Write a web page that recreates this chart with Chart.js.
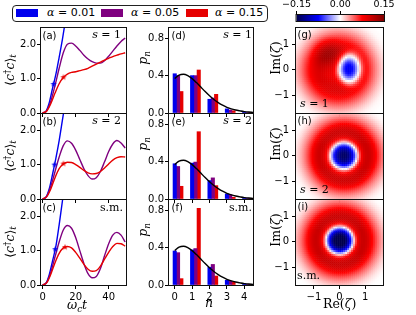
<!DOCTYPE html>
<html lang="en">
<head>
<meta charset="UTF-8">
<meta name="viewport" content="width=device-width, initial-scale=1.0">
<title>Occupation, photon statistics and Wigner maps</title>
<script src="https://cdn.jsdelivr.net/npm/chart.js"></script>
<style>
  html, body { margin: 0; padding: 0; background: #fff; }
  #fig { position: relative; width: 416px; height: 315px; overflow: hidden; font-family: "DejaVu Sans", sans-serif; color: #000; }
  #fig canvas { position: absolute; }
  .t { position: absolute; white-space: nowrap; font-size: 10px; line-height: 10px; }
  .m { font-family: "DejaVu Serif", serif; font-size: 11px; line-height: 11px; }
  .rot { position: absolute; white-space: nowrap; transform: translate(-50%, -50%) rotate(-90deg); font-family: "DejaVu Serif", serif; font-size: 12.5px; line-height: 14px; }
  .xl { position: absolute; white-space: nowrap; font-family: "DejaVu Serif", serif; font-size: 12.5px; line-height: 14px; }
  .sb { font-size: 0.7em; vertical-align: -0.3em; }
  .sp { font-size: 0.7em; vertical-align: 0.45em; }
  #legend { position: absolute; left: 12px; top: 5px; width: 254px; height: 15px; border: 1px solid #222; border-radius: 4px; }
  .patch { position: absolute; top: 9px; width: 22px; height: 8px; }
  .lg { position: absolute; top: 7px; font-size: 11px; line-height: 11px; white-space: nowrap; }
  .lg i { font-family: "DejaVu Serif", serif; }
</style>
</head>
<body>
<div id="fig">
  <div id="legend"></div>
  <div class="patch" style="left:16px;background:#0000ee"></div>
  <div class="lg" style="left:47px"><i>α</i> = 0.01</div>
  <div class="patch" style="left:101px;background:#7f007f"></div>
  <div class="lg" style="left:131px"><i>α</i> = 0.05</div>
  <div class="patch" style="left:186px;background:#e60000"></div>
  <div class="lg" style="left:215px"><i>α</i> = 0.15</div>

  <canvas id="cBar"></canvas>
  <canvas id="cA"></canvas><canvas id="cB"></canvas><canvas id="cC"></canvas>
  <canvas id="cD"></canvas><canvas id="cE"></canvas><canvas id="cF"></canvas>
  <canvas id="cG"></canvas><canvas id="cH"></canvas><canvas id="cI"></canvas>

  <!-- panel tags -->
  <div class="t" style="left:42.5px;top:31px">(a)</div>
  <div class="t" style="left:42.5px;top:117px">(b)</div>
  <div class="t" style="left:42.5px;top:203px">(c)</div>
  <div class="t" style="left:171.5px;top:31px">(d)</div>
  <div class="t" style="left:171.5px;top:117px">(e)</div>
  <div class="t" style="left:171.5px;top:203px">(f)</div>
  <div class="t" style="left:297.5px;top:30px">(g)</div>
  <div class="t" style="left:297.5px;top:116px">(h)</div>
  <div class="t" style="left:297.5px;top:202px">(i)</div>

  <div class="t m" style="right:295px;top:29px"><i>s</i> = 1</div>
  <div class="t m" style="right:295px;top:115px"><i>s</i> = 2</div>
  <div class="t m" style="right:293px;top:202px">s.m.</div>
  <div class="t m" style="right:164px;top:29px"><i>s</i> = 1</div>
  <div class="t m" style="right:164px;top:115px"><i>s</i> = 2</div>
  <div class="t m" style="right:164px;top:202px">s.m.</div>
  <div class="t m" style="left:300px;top:98px"><i>s</i> = 1</div>
  <div class="t m" style="left:300px;top:184px"><i>s</i> = 2</div>
  <div class="t m" style="left:297px;top:270px">s.m.</div>

  <!-- axis titles -->
  <div class="rot" style="left:9.5px;top:70px">⟨<i>c</i><span class="sp">†</span><i>c</i>⟩<span class="sb"><i>t</i></span></div>
  <div class="rot" style="left:9.5px;top:156px">⟨<i>c</i><span class="sp">†</span><i>c</i>⟩<span class="sb"><i>t</i></span></div>
  <div class="rot" style="left:9.5px;top:242px">⟨<i>c</i><span class="sp">†</span><i>c</i>⟩<span class="sb"><i>t</i></span></div>
  <div class="rot" style="left:145px;top:58px"><i>p</i><span class="sb"><i>n</i></span></div>
  <div class="rot" style="left:145px;top:144px"><i>p</i><span class="sb"><i>n</i></span></div>
  <div class="rot" style="left:145px;top:230px"><i>p</i><span class="sb"><i>n</i></span></div>
  <div class="rot" style="left:276px;top:58px">Im(<i>ζ</i>)</div>
  <div class="rot" style="left:276px;top:144px">Im(<i>ζ</i>)</div>
  <div class="rot" style="left:276px;top:230px">Im(<i>ζ</i>)</div>
  <div class="xl" style="left:67px;top:298px"><i>ω</i><span class="sb"><i>c</i></span><i>t</i></div>
  <div class="xl" style="left:205px;top:296px"><i>n</i></div>
  <div class="xl" style="left:323px;top:297px">Re(<i>ζ</i>)</div>
</div>

<script>
// ---- values ----
const tSteps = [0, 2.5, 5, 7.5, 10, 12.5, 15, 17.5, 20, 22.5, 25, 27.5, 30, 32.5, 35, 37.5, 40, 42.5, 45, 47.5, 50];
const tEarly = [0, 2, 4, 6, 8, 10, 12, 14];

const blueS1 = [0, 0.05, 0.3, 0.72, 1.12, 1.62, 2.15, 2.75];
const blueS2 = [0, 0.05, 0.3, 0.72, 1.18, 1.7, 2.3, 2.9];
const blueSM = [0, 0.05, 0.3, 0.7, 1.12, 1.75, 2.45, 3.1];

const purpleS1 = [0, 0.07, 0.35, 0.8, 1.3, 1.75, 2.0, 2.03, 1.95, 1.82, 1.68, 1.57, 1.49, 1.45, 1.45, 1.52, 1.65, 1.8, 1.95, 2.08, 2.18];
const redS1 = [0, 0.06, 0.28, 0.58, 0.85, 1.03, 1.13, 1.18, 1.2, 1.23, 1.26, 1.3, 1.36, 1.42, 1.48, 1.54, 1.59, 1.64, 1.68, 1.72, 1.75];
const purpleS2 = [0, 0.08, 0.38, 0.8, 1.22, 1.55, 1.69, 1.62, 1.42, 1.15, 0.88, 0.68, 0.58, 0.62, 0.8, 1.08, 1.38, 1.6, 1.7, 1.63, 1.48];
const redS2 = [0, 0.07, 0.3, 0.62, 0.88, 1.02, 1.07, 1.06, 1.0, 0.92, 0.83, 0.76, 0.73, 0.74, 0.8, 0.9, 1.02, 1.13, 1.2, 1.23, 1.22];
const purpleSM = [0, 0.08, 0.38, 0.82, 1.25, 1.6, 1.73, 1.65, 1.38, 1.0, 0.62, 0.33, 0.21, 0.25, 0.48, 0.85, 1.2, 1.45, 1.53, 1.45, 1.25];
const redSM = [0, 0.07, 0.32, 0.65, 0.92, 1.08, 1.12, 1.08, 0.95, 0.78, 0.6, 0.46, 0.4, 0.42, 0.55, 0.75, 0.95, 1.12, 1.21, 1.2, 1.13];

// star markers, one per panel (a), (b), (c)
const starBlueT = [6.6, 7.2, 7.6];
const starBlueY = [0.84, 1.0, 1.04];
const starRedT = [12.6, 12.6, 13.6];
const starRedY = [1.04, 1.03, 1.1];

// photon-number distributions
const nLevels = [0, 1, 2, 3, 4];
const pBlueS1 = [0.42, 0.40, 0.147, 0.044, 0.01];
const pPurpleS1 = [0.40, 0.40, 0.16, 0.032, 0.006];
const pRedS1 = [0.23, 0.46, 0.2, 0.024, 0.005];
const pBlueS2 = [0.377, 0.384, 0.197, 0.054, 0.011];
const pPurpleS2 = [0.348, 0.395, 0.226, 0.047, 0.008];
const pRedS2 = [0.136, 0.72, 0.143, 0.018, 0.003];
const pBlueSM = [0.364, 0.375, 0.19, 0.05, 0.014];
const pPurpleSM = [0.346, 0.39, 0.22, 0.043, 0.008];
const pRedSM = [0.068, 0.82, 0.096, 0.03, 0.004];

const nCurve = [0, 0.25, 0.5, 0.75, 1, 1.25, 1.5, 1.75, 2, 2.25, 2.5, 2.75, 3, 3.25, 3.5, 3.75, 4, 4.25, 4.5];
const pCurve = [0.368, 0.406, 0.415, 0.4, 0.368, 0.325, 0.277, 0.229, 0.184, 0.144, 0.111, 0.083, 0.061, 0.044, 0.032, 0.023, 0.015, 0.010, 0.007];

// radial profiles of the phase-space maps (value vs distance from centre)
const wigRadius = [0, 0.1, 0.2, 0.3, 0.4, 0.5, 0.6, 0.7, 0.8, 0.9, 1.0, 1.1, 1.2, 1.3, 1.4, 1.5, 1.6, 1.7, 1.8, 1.9, 2.0, 2.1, 2.2, 2.3];
const wigS1Ring = [0.078, 0.079, 0.081, 0.083, 0.086, 0.09, 0.094, 0.096, 0.095, 0.091, 0.084, 0.075, 0.065, 0.054, 0.043, 0.033, 0.024, 0.016, 0.01, 0.005, 0.002, 0.001, 0, 0];
const wigS1Blob = [-0.17, -0.166, -0.15, -0.115, -0.08, -0.035, -0.01, 0];
const wigS1Arc = [0.035, 0.034, 0.03, 0.025, 0.018, 0.012, 0.007, 0.003, 0];
const wigS2 = [-0.14, -0.138, -0.125, -0.1, -0.06, -0.01, 0.045, 0.08, 0.098, 0.105, 0.104, 0.096, 0.083, 0.068, 0.054, 0.041, 0.03, 0.021, 0.013, 0.007, 0.003, 0.001, 0, 0];
const wigSM = [-0.16, -0.158, -0.15, -0.125, -0.08, -0.025, 0.04, 0.082, 0.1, 0.107, 0.105, 0.097, 0.084, 0.07, 0.056, 0.043, 0.032, 0.022, 0.014, 0.008, 0.004, 0.001, 0, 0];

// ticks
const tickT = [0, 20, 40];
const tickOcc = [0, 1, 2];
const tickN = [0, 1, 2, 3, 4];
const tickP = [0, 0.4, 0.8];
const tickZ = [-1, 0, 1];
const cbRange = [-0.15, 0.15];
const cbTicks = [-0.15, 0, 0.15];

// ---- styling / layout ----
const BLUE = '#0000ee', PURPLE = '#7f007f', RED = '#e60000';
const BOX = { l: 40, r: 14, t: 12, b: 28 };
const ROWS = [27, 113, 199];
const GRID_N = 44;

const pts = (xs, ys) => xs.map((x, i) => ({ x, y: ys[i] }));
const fmt1 = v => v.toFixed(1);
const fmtInt = v => (v < 0 ? '\u2212' : '') + Math.abs(v);

function seismic(v) {
  const stops = [[0, 0, 0, 77], [0.25, 0, 0, 255], [0.5, 255, 255, 255], [0.75, 255, 0, 0], [1, 128, 0, 0]];
  let t = (v - cbRange[0]) / (cbRange[1] - cbRange[0]);
  t = Math.max(0, Math.min(1, t));
  let k = 0;
  while (k < stops.length - 2 && t > stops[k + 1][0]) k++;
  const a = stops[k], b = stops[k + 1], f = (t - a[0]) / (b[0] - a[0]);
  const c = i => Math.round(a[i] + (b[i] - a[i]) * f);
  return 'rgb(' + c(1) + ',' + c(2) + ',' + c(3) + ')';
}

function lookup(prof, r) {
  const step = wigRadius[1] - wigRadius[0];
  const i = r / step, k = Math.floor(i);
  if (k >= prof.length - 1) return prof[prof.length - 1];
  return prof[k] + (prof[k + 1] - prof[k]) * (i - k);
}

function fieldCells(parts, yMin, yMax) {
  const cells = [];
  const sx = 3.4 / GRID_N, sy = (yMax - yMin) / GRID_N;
  for (let i = 0; i < GRID_N; i++) {
    for (let j = 0; j < GRID_N; j++) {
      const x = -1.7 + (i + 0.5) * sx, y = yMin + (j + 0.5) * sy;
      let v = 0;
      parts.forEach(p => { v += lookup(p.prof, Math.hypot(x - p.cx, (y - p.cy) / p.sy)); });
      cells.push({ x, y, v });
    }
  }
  return cells;
}

function starImg(color) {
  const c = document.createElement('canvas');
  c.width = c.height = 8;
  const g = c.getContext('2d');
  g.fillStyle = color;
  g.beginPath();
  for (let i = 0; i < 10; i++) {
    const r = i % 2 ? 1.3 : 3.3, a = -Math.PI / 2 + i * Math.PI / 5;
    g.lineTo(4 + r * Math.cos(a), 4 + r * Math.sin(a));
  }
  g.closePath();
  g.fill();
  return c;
}

const framePlugin = {
  id: 'frame',
  afterDraw(chart) {
    const a = chart.chartArea, g = chart.ctx;
    g.save();
    g.strokeStyle = '#111';
    g.lineWidth = 1;
    g.strokeRect(a.left - 0.5, a.top + 0.5, a.right - a.left + 1, a.bottom - a.top);
    g.restore();
  }
};
Chart.register(framePlugin);

function place(id, L, T, W, H, box) {
  const c = document.getElementById(id);
  c.width = box.l + W + box.r;
  c.height = box.t + H + box.b;
  c.style.left = (L - box.l) + 'px';
  c.style.top = (T - box.t) + 'px';
  return c;
}

function axis(kind, min, max, ticks, fmt, show, pad) {
  const horiz = kind === 'x';
  return {
    type: 'linear', min, max, offset: false,
    afterBuildTicks: s => { s.ticks = ticks.map(value => ({ value })); },
    afterFit: s => { if (horiz) s.height = BOX.b; else s.width = BOX.l; },
    ticks: { display: show, callback: v => fmt(v), color: '#000', font: { family: 'DejaVu Sans', size: 10 },
             padding: pad !== undefined ? pad : (horiz ? 2 : 1), maxRotation: 0, autoSkip: false },
    grid: { drawOnChartArea: false, drawTicks: true, tickLength: 4, tickColor: '#000', tickWidth: 1, offset: false },
    border: { display: false }
  };
}

function baseOptions(xs, ys) {
  return {
    responsive: false, animation: false, events: [],
    layout: { padding: { left: 0, right: BOX.r, top: BOX.t, bottom: 0 } },
    plugins: { legend: { display: false }, tooltip: { enabled: false } },
    scales: { x: xs, y: ys }
  };
}

// ---- column 1: occupation vs time ----
const occ = [[blueS1, purpleS1, redS1], [blueS2, purpleS2, redS2], [blueSM, purpleSM, redSM]];
['cA', 'cB', 'cC'].forEach((id, k) => {
  const c = place(id, 41, ROWS[k], 85, 86, BOX);
  const line = (xs, ys, color, order) => ({ data: pts(xs, ys), borderColor: color, borderWidth: 1.4, pointRadius: 0,
    cubicInterpolationMode: 'monotone', order });
  new Chart(c, {
    type: 'line',
    data: { datasets: [
      line(tEarly, occ[k][0], BLUE, 3),
      line(tSteps, occ[k][1], PURPLE, 2),
      line(tSteps, occ[k][2], RED, 1),
      { type: 'scatter', data: [{ x: starBlueT[k], y: starBlueY[k] }], pointStyle: starImg(BLUE), pointRadius: 4, order: 0 },
      { type: 'scatter', data: [{ x: starRedT[k], y: starRedY[k] }], pointStyle: starImg(RED), pointRadius: 4, order: 0 }
    ] },
    options: baseOptions(axis('x', -1, 50.5, tickT, fmtInt, k === 2), axis('y', 0, 2.5, tickOcc, fmt1, true))
  });
});

// ---- column 2: photon-number distributions ----
const dist = [[pBlueS1, pPurpleS1, pRedS1], [pBlueS2, pPurpleS2, pRedS2], [pBlueSM, pPurpleSM, pRedSM]];
const barShift = [0, 0.19, 0.38];
const barColors = [BLUE, PURPLE, RED];
['cD', 'cE', 'cF'].forEach((id, k) => {
  const c = place(id, 169, ROWS[k], 84, 86, BOX);
  const sets = [{ type: 'line', data: pts(nCurve, pCurve), borderColor: '#000', borderWidth: 1.4, pointRadius: 0,
                  cubicInterpolationMode: 'monotone', order: 0 }];
  dist[k].forEach((vals, j) => sets.push({
    data: pts(nLevels.map(n => n + barShift[j]), vals), backgroundColor: barColors[j],
    barThickness: 3.4, grouped: false, borderWidth: 0, order: 1
  }));
  new Chart(c, {
    type: 'bar',
    data: { datasets: sets },
    options: baseOptions(axis('x', -0.33, 4.5, tickN, fmtInt, k === 2), axis('y', 0, 0.92, tickP, fmt1, true))
  });
});

// ---- column 3: phase-space maps ----
const Y_MIN = -1.7, Y_MAX = 1.67;
const maps = [
  fieldCells([{ cx: -0.05, cy: 0, sy: 1, prof: wigS1Ring },
              { cx: 0.41, cy: 0.04, sy: 1.35, prof: wigS1Blob },
              { cx: -0.45, cy: 0.6, sy: 1, prof: wigS1Arc }], Y_MIN, Y_MAX),
  fieldCells([{ cx: 0.18, cy: 0, sy: 1, prof: wigS2 }], Y_MIN, Y_MAX),
  fieldCells([{ cx: 0.02, cy: 0.05, sy: 1, prof: wigSM }], Y_MIN, Y_MAX)
];
['cG', 'cH', 'cI'].forEach((id, k) => {
  const c = place(id, 296, ROWS[k], 87, 86, BOX);
  new Chart(c, {
    type: 'scatter',
    data: { datasets: [{ data: maps[k], pointStyle: 'rect', pointRadius: 1.75, pointBorderWidth: 0,
                         pointBackgroundColor: ctx => seismic(ctx.raw.v), clip: 0 }] },
    options: baseOptions(axis('x', -1.7, 1.7, tickZ, fmtInt, k === 2), axis('y', Y_MIN, Y_MAX, tickZ, fmtInt, true, 3))
  });
});

// ---- colour bar ----
(function () {
  const box = { l: 14, r: 14, t: 14, b: 2 };
  const c = place('cBar', 295, 14, 89, 7, box);
  new Chart(c, {
    type: 'bar',
    data: { labels: ['cb'], datasets: [{
      data: [cbRange], barPercentage: 1, categoryPercentage: 1, borderWidth: 0,
      backgroundColor: ctx => {
        const a = ctx.chart.chartArea;
        if (!a) return 'transparent';
        const g = ctx.chart.ctx.createLinearGradient(a.left, 0, a.right, 0);
        [0, 0.25, 0.5, 0.75, 1].forEach(s => g.addColorStop(s, seismic(cbRange[0] + s * (cbRange[1] - cbRange[0]))));
        return g;
      }
    }] },
    options: {
      indexAxis: 'y', responsive: false, animation: false, events: [],
      layout: { padding: { left: box.l, right: box.r, top: 0, bottom: box.b } },
      plugins: { legend: { display: false }, tooltip: { enabled: false } },
      scales: {
        x: { type: 'linear', position: 'top', min: cbRange[0], max: cbRange[1], offset: false,
             afterBuildTicks: s => { s.ticks = cbTicks.map(value => ({ value })); },
             afterFit: s => { s.height = box.t; },
             ticks: { callback: v => (v < 0 ? '\u2212' : '') + Math.abs(v).toFixed(2), color: '#000',
                      font: { family: 'DejaVu Sans', size: 9.5 }, padding: 1, maxRotation: 0, autoSkip: false },
             grid: { drawOnChartArea: false, tickLength: 3, tickColor: '#000', tickWidth: 1, offset: false },
             border: { display: false } },
        y: { display: false }
      }
    }
  });
})();
</script>
</body>
</html>
